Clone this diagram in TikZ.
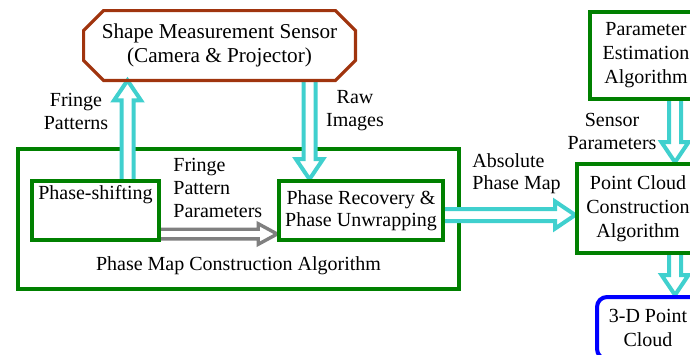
\documentclass[tikz,border=0pt]{standalone}
\usepackage{fontspec}
\setmainfont{Liberation Serif}
\usetikzlibrary{positioning, calc, backgrounds, arrows.meta}
\definecolor{sensorbrown}{RGB}{160,52,14}
\definecolor{linkcyan}{RGB}{64,208,206}
\definecolor{boxgreen}{RGB}{0,128,0}
\tikzset{
    hollow/.style n args={3}{line join=miter, fill=white, to path={
        ($(\tikztostart)!#1!90:(\tikztotarget)$)
        -- ($(\tikztotarget)!#3!(\tikztostart)!#1!90:(\tikztotarget)$)
        -- ($(\tikztotarget)!#3!(\tikztostart)!#2!90:(\tikztotarget)$)
        -- (\tikztotarget)
        -- ($(\tikztotarget)!#3!(\tikztostart)!#2!-90:(\tikztotarget)$)
        -- ($(\tikztotarget)!#3!(\tikztostart)!#1!-90:(\tikztotarget)$)
        -- ($(\tikztostart)!#1!-90:(\tikztotarget)$)}}
}

\begin{document}
\begin{tikzpicture}[x=0.5pt, y=-0.5pt, font=\fontsize{10}{11.5}\selectfont,
    box/.style={draw=boxgreen, line width=1.8pt, align=center, inner sep=0pt},
    note/.style={align=center, inner sep=0pt},
    flow/.style={draw=linkcyan, line width=2pt, hollow={3pt}{6.75pt}{10pt}},
    param flow/.style={draw=gray, line width=1.7pt, hollow={2.4pt}{5.15pt}{9.5pt}}]
    \useasboundingbox (0,0) rectangle (690,354);
    \clip (0,0) rectangle (690,354);
    \node[minimum width=135.5pt, minimum height=34.5pt, align=center, inner sep=0pt, font=\fontsize{10.6}{12}\selectfont] (sensor) at (219.5,45.5) {Shape Measurement Sensor\\(Camera \& Projector)};
    \draw[sensorbrown, line width=1.6pt] ([xshift=10pt]sensor.north west) -- ([xshift=-10pt]sensor.north east)
        -- ([yshift=-10pt]sensor.north east) -- ([yshift=10pt]sensor.south east)
        -- ([xshift=-10pt]sensor.south east) -- ([xshift=10pt]sensor.south west)
        -- ([yshift=10pt]sensor.south west) -- ([yshift=-10pt]sensor.north west) -- cycle;
    \node[box, minimum width=63.5pt, minimum height=29.5pt] (ps) at (95.5,210.5) {};
    \node[note, anchor=base] (pstext) at ([yshift=-10pt]ps.north) {Phase-shifting};
    \node[box, minimum width=82pt, minimum height=29.5pt, font=\fontsize{10}{11}\selectfont] (pr) at (361,210.5) {Phase Recovery \&\\Phase Unwrapping};
    \node[note] (pmcatext) at (238.5,266) {Phase Map Construction Algorithm};
    \node[box, minimum width=56pt, minimum height=43.5pt, font=\fontsize{10}{12}\selectfont] (param) at (646,55.5) {Parameter\\Estimation\\Algorithm};
    \node[box, minimum width=61pt, minimum height=44.5pt, font=\fontsize{10}{12}\selectfont] (pc) at (638,208.5) {Point Cloud\\Construction\\Algorithm};
    \node[draw=blue, line width=2pt, rounded corners=5pt, minimum width=51pt, minimum height=31pt, align=center, inner sep=0pt, font=\fontsize{10}{12}\selectfont] (cloud) at (648,328) {3-D Point\\Cloud};
    \node[note] (fplabel) at (76,111) {Fringe\\Patterns};
    \node[note] (rawlabel) at (355,111) {Raw\\Images};
    \node[note, anchor=west, align=left] (fpplabel) at (173,188) {Fringe\\Pattern\\Parameters};
    \node[note, anchor=west, align=left, font=\fontsize{10}{11}\selectfont] (aplabel) at (472,174) {Absolute\\Phase Map};
    \node[note] (splabel) at (612,131) {Sensor\\Parameters};
    \coordinate (fpx) at (127.5,0);
    \coordinate (rix) at (309.5,0);
    \coordinate (spx) at (675,0);
    \coordinate (fppy) at (0,234);
    \coordinate (apy) at (0,215);
    \begin{scope}[on background layer]
        \node[box, minimum width=220.5pt, minimum height=70pt] (pmca) at (238.5,219) {};
        \draw[flow] (ps.north -| fpx) to (sensor.south -| fpx);
        \draw[flow] (sensor.south -| rix) to (pr.north -| rix);
        \draw[param flow] (ps.east |- fppy) to (pr.west |- fppy);
        \draw[flow] (pr.east |- apy) to (pc.west |- apy);
        \draw[flow] (param.south -| spx) to (pc.north -| spx);
        \draw[flow] (pc.south -| spx) to (cloud.north -| spx);
    \end{scope}
\end{tikzpicture}
\end{document}
